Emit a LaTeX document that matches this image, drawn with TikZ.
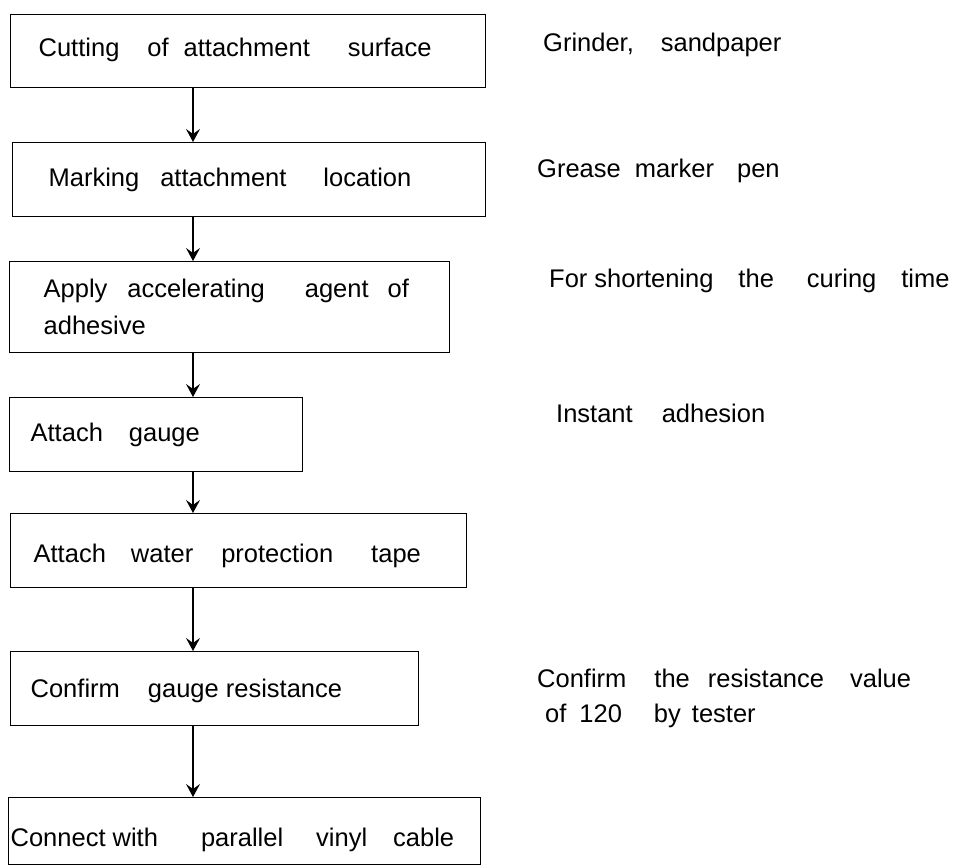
\documentclass[tikz,border=0pt]{standalone}
\usepackage{fontspec}
\setmainfont{Liberation Sans}
\usetikzlibrary{arrows.meta}
\newcommand{\gp}[1]{\hspace{#1pt}}
\newcommand{\boxtext}[5]{\parbox[b][#2pt][t]{#1pt}{\hspace*{#3pt}\rule{0pt}{#4pt}#5}}
\begin{document}
\begin{tikzpicture}[x=1pt,y=-1pt,
  stepbox/.style={draw, line width=1.3pt, inner sep=0pt, anchor=north west, font=\fontsize{25.5}{37}\selectfont},
  note/.style={anchor=base west, inner sep=0pt, font=\fontsize{25.5}{35}\selectfont},
  arr/.style={line width=1.3pt, -{Stealth[length=13pt,width=14pt,inset=5pt]}}]
\useasboundingbox (0,0) rectangle (953,867);
\node[stepbox] (b1) at (10,14) {\boxtext{475}{73}{28}{42}{Cutting\gp{28}of\gp{15}attachment\gp{38}surface}};
\node[stepbox] (b2) at (12,142) {\boxtext{473}{74}{36}{44}{Marking\gp{21}attachment\gp{37}location}};
\node[stepbox] (b3) at (9,261) {\parbox[b][91pt][t]{440pt}{\leftskip=34pt\rule{0pt}{36pt}Apply\gp{20}accelerating\gp{40}agent\gp{19}of\\adhesive}};
\node[stepbox] (b4) at (9,397) {\boxtext{293}{74}{21}{44}{Attach\gp{26}gauge}};
\node[stepbox] (b5) at (10,513) {\boxtext{456}{74}{23}{49}{Attach\gp{25}water\gp{28}protection\gp{38}tape}};
\node[stepbox] (b6) at (10,651) {\boxtext{408}{74}{20}{46}{Confirm\gp{28}gauge resistance}};
\node[stepbox] (b7) at (8,797) {\boxtext{472}{67}{2}{49}{Connect with\gp{43}parallel\gp{33}vinyl\gp{26}cable}};
\draw[arr] (193,0 |- b1.south) -- (193,0 |- b2.north);
\draw[arr] (193,0 |- b2.south) -- (193,0 |- b3.north);
\draw[arr] (193,0 |- b3.south) -- (193,0 |- b4.north);
\draw[arr] (193,0 |- b4.south) -- (193,0 |- b5.north);
\draw[arr] (193,0 |- b5.south) -- (193,0 |- b6.north);
\draw[arr] (193,0 |- b6.south) -- (193,0 |- b7.north);
\node[note] (n1) at (543,52) {Grinder,\gp{27}sandpaper};
\node[note] (n2) at (537,177) {Grease\gp{14}marker\gp{23}pen};
\node[note] (n3) at (549,287) {For\gp{7}shortening\gp{25}the\gp{33}curing\gp{25}time};
\node[note] (n4) at (556,422) {Instant\gp{29}adhesion};
\node[note] (n6) at (537,687) {\parbox[t]{400pt}{Confirm\gp{28}the\gp{18}resistance\gp{26}value\\\hspace*{8pt}of\gp{13}120\gp{32}by\gp{11}tester}};
\end{tikzpicture}
\end{document}
